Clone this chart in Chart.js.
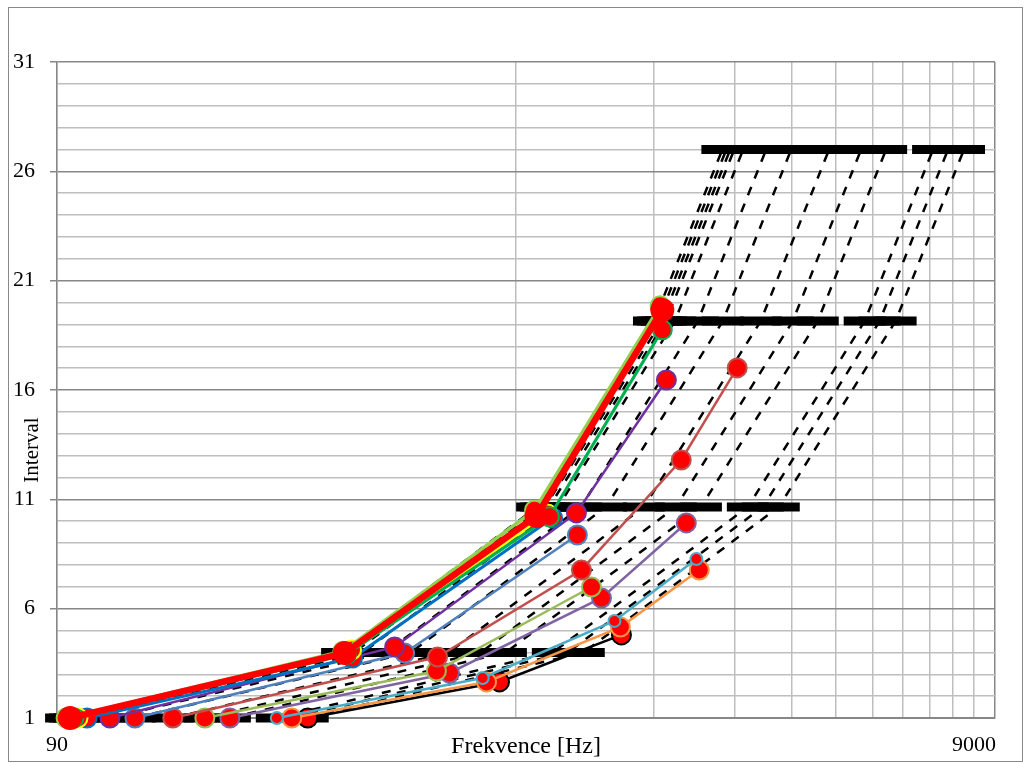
<!DOCTYPE html>
<html>
<head>
<meta charset="utf-8">
<script src="https://cdn.jsdelivr.net/npm/chart.js@4.4.0/dist/chart.umd.min.js"></script>
<style>
  html, body { margin: 0; padding: 0; background: #fff; }
  #wrap { width: 1031px; height: 763px; }
</style>
</head>
<body>
<div id="wrap"><canvas id="chart"></canvas></div>
<script>
// interval levels of the black bars
const levels = [1, 4, 10.65, 19.15, 27];

// dashed "ideal" lines, frequency at each level
const idealFreqs = [
  [94.2, 376.8, 1003.2, 1803.9, 2543.4],
  [96.1, 384.4, 1023.5, 1840.3, 2594.7],
  [98.0, 392.0, 1043.7, 1876.7, 2646.0],
  [100.0, 400.0, 1065.0, 1915.0, 2700.0],
  [104.6, 418.4, 1114.0, 2003.1, 2824.2],
  [117.4, 469.6, 1250.3, 2248.2, 3169.8],
  [133.1, 532.4, 1417.5, 2548.9, 3593.7],
  [161.0, 644.0, 1714.7, 3083.2, 4347.0],
  [189.1, 756.4, 2013.9, 3621.3, 5105.7],
  [214.4, 857.6, 2283.4, 4105.8, 5788.8],
  [271.4, 1085.6, 2890.4, 5197.3, 7327.8],
  [292.6, 1170.4, 3116.2, 5603.3, 7900.2],
  [317.0, 1268.0, 3376.1, 6070.6, 8559.0]
];

// measured series (red markers, coloured lines)
const seriesColors = ['#FF0000', '#92D050', '#00B050', '#FFFF00', '#0070C0', '#7030A0', '#4F81BD',
                      '#C0504D', '#9BBB59', '#8064A2', '#4BACC6', '#F79646', '#000000'];
const seriesFreqs = [
  [96.1, 381.6, 1000, 1881],
  [94.2, 378, 990, 1860],
  [98.0, 385, 1067, 1881],
  [100.0, 395, 1057],
  [104.6, 397, 1084],
  [117.4, 490.5, 1222, 1920],
  [133.1, 515.8, 1228],
  [161.0, 608.5, 1253, 2069, 2740],
  [189.1, 605, 1318],
  [214.4, 646, 1386, 2122],
  [271.4, 763, 1479, 2232],
  [292.6, 778, 1524, 2265],
  [317.0, 830.5, 1532]
];
const seriesIntervals = [
  [1, 3.97, 10.24, 19.66],
  [1, 4.05, 10.5, 19.85],
  [1, 3.9, 10.2, 18.75],
  [1, 4.11, 10.33],
  [1, 3.74, 10.15],
  [1, 4.25, 10.38, 16.46],
  [1, 3.97, 9.37],
  [1, 3.79, 7.77, 12.8, 17.01],
  [1, 3.15, 6.99],
  [1, 3.06, 6.49, 9.92],
  [1, 2.83, 5.44, 8.27],
  [1, 2.65, 5.16, 7.77],
  [1, 2.65, 4.8]
];
const seriesWidths = [6.5, 3.5, 3, 2.5, 3, 2.5, 2.5, 2.5, 2.5, 2.5, 2.5, 2.5, 2.5];
const seriesRadius = [11, 9.5, 9.5, 9.5, 9.5, 9.5, 9.5, 9.5, 9.5, 9.5, 6, 9.5, 9.5];

// axis ticks
const xGridValues = [90, 900, 1800, 2700, 3600, 4500, 5400, 6300, 7200, 8100, 9000, 10000];
const xLabelValues = [90, 9000];
const yMin = 1, yMax = 31, yLabelStep = 5;

const datasets = [];
seriesFreqs.forEach(function (fs, i) {
  datasets.push({
    data: fs.map(function (f, j) { return { x: f, y: seriesIntervals[i][j] }; }),
    showLine: true,
    borderColor: seriesColors[i],
    borderWidth: seriesWidths[i],
    pointRadius: seriesRadius[i],
    pointBackgroundColor: '#FF0000',
    pointBorderColor: seriesColors[i],
    pointBorderWidth: 2,
    clip: false,
    order: 1
  });
});
idealFreqs.forEach(function (fs) {
  datasets.push({
    data: fs.map(function (f, j) { return { x: f, y: levels[j] }; }),
    showLine: true,
    borderColor: '#000000',
    borderWidth: 2.5,
    borderDash: [9, 9],
    pointStyle: 'line',
    pointRadius: 21,
    pointBorderColor: '#000000',
    pointBorderWidth: 9,
    clip: false,
    order: 2
  });
});

const frame = {
  id: 'frame',
  afterDraw(chart) {
    const c = chart.ctx;
    const area = chart.chartArea;
    c.save();
    c.strokeStyle = '#898989';
    c.lineWidth = 1;
    c.strokeRect(8.5, 7.5, 1014, 754);
    c.fillStyle = '#000';
    c.textAlign = 'center';
    c.textBaseline = 'alphabetic';
    c.font = '24px "Liberation Serif"';
    c.fillText('Frekvence [Hz]', (area.left + area.right) / 2, 753);
    c.translate(38, 450);
    c.rotate(-Math.PI / 2);
    c.font = '21px "Liberation Serif"';
    c.fillText('Interval', 0, 0);
    c.restore();
  }
};

new Chart(document.getElementById('chart'), {
  type: 'scatter',
  data: { datasets: datasets },
  options: {
    responsive: true,
    maintainAspectRatio: false,
    animation: false,
    devicePixelRatio: 1,
    layout: { padding: { left: 9, top: 62, right: 36, bottom: 8 } },
    plugins: { legend: { display: false }, tooltip: { enabled: false } },
    scales: {
      x: {
        type: 'logarithmic',
        min: 90,
        max: 10000,
        afterBuildTicks: function (scale) {
          scale.ticks = xGridValues.map(function (v) { return { value: v }; });
        },
        afterFit: function (scale) { scale.height = 37; },
        border: { display: true, color: '#878787', width: 1 },
        grid: {
          drawTicks: false,
          color: function (ctx) { return ctx.tick && ctx.tick.value === 10000 ? '#878787' : '#BEBEBE'; },
          lineWidth: 1.5
        },
        ticks: {
          autoSkip: false,
          maxRotation: 0,
          padding: 14,
          color: '#000',
          font: { family: 'Liberation Serif', size: 22 },
          callback: function (v) { return xLabelValues.indexOf(v) >= 0 ? String(v) : ''; }
        }
      },
      y: {
        min: yMin,
        max: yMax,
        afterFit: function (scale) { scale.width = 48; },
        border: { display: true, color: '#878787', width: 1.5 },
        grid: {
          tickLength: 7,
          lineWidth: 1.5,
          color: function (ctx) { return (ctx.tick.value - yMin) % yLabelStep === 0 ? '#878787' : '#BEBEBE'; },
          tickColor: function (ctx) { return (ctx.tick.value - yMin) % yLabelStep === 0 ? '#878787' : 'rgba(0,0,0,0)'; }
        },
        ticks: {
          stepSize: 1,
          autoSkip: false,
          padding: 15,
          color: '#000',
          font: { family: 'Liberation Serif', size: 22 },
          callback: function (v) { return (v - yMin) % yLabelStep === 0 ? String(v) : ''; }
        }
      }
    }
  },
  plugins: [frame]
});
</script>
</body>
</html>
